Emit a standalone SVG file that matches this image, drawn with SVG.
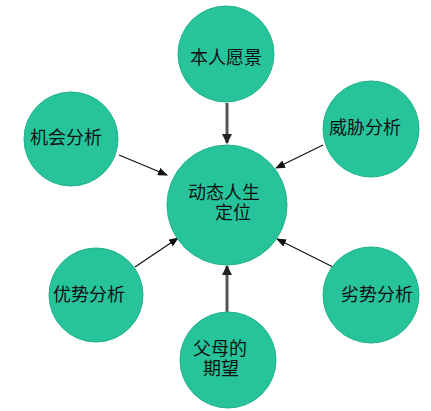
<svg xmlns="http://www.w3.org/2000/svg" width="431" height="411" viewBox="0 0 431 411">
<defs>
<style>
.n{fill:#27c49b;stroke:#21b38b;stroke-width:1}
.t{font-family:"Liberation Sans","Noto Sans CJK SC",sans-serif;font-size:18px;fill:#111}
.thin{stroke:#111;stroke-width:1.2;fill:none}
.thick{stroke:#555;stroke-width:3;fill:none}
</style>
<marker id="ah" markerWidth="10" markerHeight="8" refX="9" refY="4" orient="auto" markerUnits="userSpaceOnUse">
<path d="M0,0 L10,4 L0,8 Z" fill="#111"/>
</marker>
<marker id="ahk" markerWidth="10" markerHeight="10" refX="9" refY="5" orient="auto" markerUnits="userSpaceOnUse">
<path d="M0,0 L10,5 L0,10 Z" fill="#222"/>
</marker>
</defs>
<rect width="431" height="411" fill="#fff"/>
<g id="connectors">
<path class="thick" d="M227,103 L227,143" marker-end="url(#ahk)"/>
<path class="thick" d="M227,314 L227,266" marker-end="url(#ahk)"/>
<path class="thin" d="M119,155 L167,175" marker-end="url(#ah)"/>
<path class="thin" d="M323,145 L276,168" marker-end="url(#ah)"/>
<path class="thin" d="M135,267 L178,238" marker-end="url(#ah)"/>
<path class="thin" d="M333,267 L277,239" marker-end="url(#ah)"/>
</g>
<g id="center">
<circle class="n" cx="227" cy="205" r="60"/>
<text class="t" x="188" y="199">动态人生</text>
<text class="t" x="215" y="219">定位</text>
</g>
<g id="vision">
<circle class="n" cx="226" cy="54" r="48"/>
<text class="t" x="190" y="64">本人愿景</text>
</g>
<g id="opportunity">
<circle class="n" cx="71" cy="139" r="47"/>
<text class="t" x="30" y="144">机会分析</text>
</g>
<g id="threat">
<circle class="n" cx="371" cy="129" r="48"/>
<text class="t" x="329" y="134">威胁分析</text>
</g>
<g id="strength">
<circle class="n" cx="96" cy="295" r="47"/>
<text class="t" x="53" y="301">优势分析</text>
</g>
<g id="weakness">
<circle class="n" cx="371" cy="295" r="48"/>
<text class="t" x="341" y="301">劣势分析</text>
</g>
<g id="parents">
<circle class="n" cx="228" cy="360" r="48"/>
<text class="t" x="193" y="355">父母的</text>
<text class="t" x="203" y="375">期望</text>
</g>
</svg>
